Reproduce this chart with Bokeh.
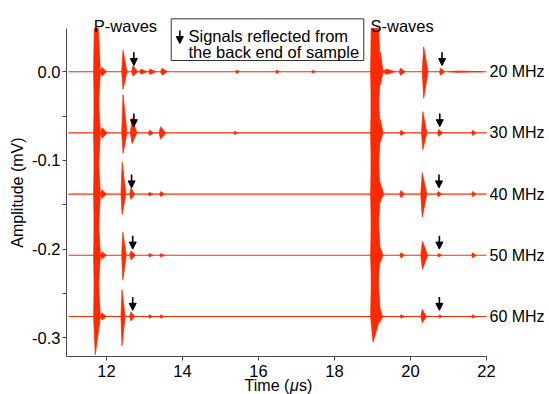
import numpy as np
from bokeh.plotting import figure
from bokeh.models import (ColumnDataSource, Arrow, NormalHead, Label, FixedTicker,
                          PrintfTickFormatter, Range1d, LinearAxis)
from bokeh.core.properties import value
from bokeh.embed import file_html
from bokeh.resources import INLINE

# ---------------- data ----------------
freq_labels = ["20 MHz", "30 MHz", "40 MHz", "50 MHz", "60 MHz"]
trace_offsets = [0.0, -0.069, -0.138, -0.207, -0.276]   # mV, vertical offset of each trace
record_start = 11.0   # us
record_end = 22.0     # us

# wave packets: (start us, end us, positive peak mV, negative peak mV), relative to trace baseline
packets_20 = [(11.66, 11.84, 0.120, 0.100), (11.84, 12.00, 0.005, 0.005),
              (12.40, 12.54, 0.024, 0.020), (12.66, 12.82, 0.007, 0.005),
              (12.86, 13.06, 0.003, 0.003), (13.10, 13.30, 0.003, 0.003),
              (13.42, 13.60, 0.004, 0.004), (15.40, 15.50, 0.002, 0.002),
              (16.45, 16.55, 0.002, 0.002), (17.40, 17.50, 0.0015, 0.0015),
              (18.95, 19.21, 0.200, 0.140), (19.18, 19.28, 0.022, 0.015),
              (19.28, 19.60, 0.003, 0.003), (19.70, 19.86, 0.004, 0.004),
              (20.31, 20.46, 0.028, 0.030), (20.76, 20.90, 0.004, 0.004),
              (21.00, 21.90, 0.0007, 0.0007)]
packets_30 = [(11.66, 11.84, 0.100, 0.100), (11.84, 12.02, 0.006, 0.006),
              (12.40, 12.54, 0.043, 0.023), (12.63, 12.80, 0.017, 0.012),
              (13.10, 13.24, 0.003, 0.003), (13.38, 13.56, 0.007, 0.007),
              (15.35, 15.45, 0.002, 0.002), (18.95, 19.21, 0.140, 0.140),
              (19.18, 19.28, 0.015, 0.010), (19.72, 19.84, 0.003, 0.003),
              (20.29, 20.43, 0.024, 0.019), (20.71, 20.84, 0.004, 0.004),
              (21.61, 21.72, 0.003, 0.003)]
packets_40 = [(11.66, 11.84, 0.100, 0.100), (11.84, 12.00, 0.005, 0.005),
              (12.38, 12.51, 0.036, 0.023), (12.61, 12.74, 0.007, 0.006),
              (13.10, 13.22, 0.002, 0.002), (13.40, 13.52, 0.003, 0.003),
              (18.95, 19.21, 0.140, 0.120), (19.16, 19.30, 0.013, 0.009),
              (19.72, 19.84, 0.004, 0.004), (20.27, 20.43, 0.024, 0.026),
              (20.70, 20.82, 0.003, 0.003), (21.61, 21.72, 0.003, 0.003)]
packets_50 = [(11.66, 11.84, 0.100, 0.090), (11.84, 12.00, 0.004, 0.004),
              (12.40, 12.52, 0.026, 0.028), (12.61, 12.76, 0.005, 0.005),
              (13.10, 13.22, 0.002, 0.002), (13.40, 13.52, 0.002, 0.002),
              (18.95, 19.21, 0.140, 0.090), (19.16, 19.28, 0.009, 0.009),
              (19.72, 19.84, 0.003, 0.003), (20.27, 20.45, 0.016, 0.016),
              (20.71, 20.82, 0.002, 0.002), (21.61, 21.72, 0.003, 0.003)]
packets_60 = [(11.66, 11.84, 0.100, 0.043), (11.84, 12.00, 0.004, 0.004),
              (12.38, 12.49, 0.030, 0.033), (12.61, 12.74, 0.005, 0.005),
              (13.10, 13.22, 0.002, 0.002), (13.40, 13.52, 0.002, 0.002),
              (18.95, 19.21, 0.140, 0.029), (19.16, 19.27, 0.009, 0.007),
              (19.72, 19.84, 0.002, 0.002), (20.27, 20.42, 0.008, 0.007),
              (20.74, 20.84, 0.002, 0.002), (21.61, 21.72, 0.002, 0.002)]
packets = [packets_20, packets_30, packets_40, packets_50, packets_60]

# arrows marking signals reflected from the back end of the sample (us)
arrow_p_times = [12.72, 12.72, 12.66, 12.69, 12.69]
arrow_s_times = [20.83, 20.77, 20.75, 20.76, 20.76]

x_ticks = [12, 14, 16, 18, 20, 22]
y_ticks = [0.0, -0.1, -0.2, -0.3]
y_minor_ticks = [-0.05, -0.15, -0.25]

# ---------------- layout / style ----------------
RED = "#ff2a00"
FONT = "Liberation Sans"
X_AXIS = (10.947, 22.0)
Y_AXIS = (-0.3211, 0.0487)

p = figure(width=549, height=394, output_backend="svg", toolbar_location=None,
           x_range=Range1d(9.2105, 23.658), y_range=Range1d(-0.36393, 0.08027),
           x_axis_location=None, y_axis_location=None,
           min_border_left=0, min_border_right=0, min_border_top=0, min_border_bottom=0)
p.outline_line_color = None
p.grid.visible = False
p.background_fill_color = "white"

xaxis = LinearAxis(fixed_location=Y_AXIS[0], bounds=X_AXIS,
                   ticker=FixedTicker(ticks=x_ticks))
yaxis = LinearAxis(fixed_location=X_AXIS[0], bounds=Y_AXIS,
                   ticker=FixedTicker(ticks=y_ticks, minor_ticks=y_minor_ticks),
                   formatter=PrintfTickFormatter(format="%.1f"))
for ax in (xaxis, yaxis):
    ax.axis_line_color = "#4a4a4a"
    ax.major_tick_line_color = "#4a4a4a"
    ax.minor_tick_line_color = "#4a4a4a"
    ax.major_tick_in = 0
    ax.major_tick_out = 4
    ax.minor_tick_in = 0
    ax.minor_tick_out = 4
    ax.major_label_text_font = FONT
    ax.major_label_text_font_size = "16.5px"
    ax.major_label_text_color = "black"
xaxis.major_label_standoff = 4
yaxis.major_label_standoff = 2
p.add_layout(xaxis, "below")
p.add_layout(yaxis, "left")


def clip_top(xs, ys, ymax):
    ox, oy = [], []
    n = len(xs)
    for i in range(n):
        x1, y1 = xs[i], ys[i]
        x2, y2 = xs[(i + 1) % n], ys[(i + 1) % n]
        in1, in2 = y1 <= ymax, y2 <= ymax
        if in1:
            ox.append(x1); oy.append(y1)
        if in1 != in2:
            f = (ymax - y1) / (y2 - y1)
            ox.append(x1 + f * (x2 - x1)); oy.append(ymax)
    return ox, oy


# baselines
p.multi_line([[record_start, record_end] for _ in trace_offsets],
             [[o, o] for o in trace_offsets], line_color=RED, line_width=1.1)

# wave packets as envelopes (kite: fast rise, slower decay)
pxs, pys = [], []
for base, plist in zip(trace_offsets, packets):
    for t0, t1, up, dn in plist:
        w = t1 - t0
        xs = [t0, t0 + 0.25 * w, t1, t0 + 0.25 * w]
        ys = [base, base + up, base, base - dn]
        xs, ys = clip_top(xs, ys, Y_AXIS[1])
        pxs.append(xs); pys.append(ys)
p.patches(pxs, pys, fill_color=RED, line_color=RED, line_width=0.7)

# frequency labels
p.text(x=[22.079] * 5, y=trace_offsets, text=freq_labels, text_font=value(FONT),
       text_font_size="16px", text_baseline="middle", text_align="left", text_color="black")

# reflection arrows
asrc = ColumnDataSource(dict(
    x=arrow_p_times + arrow_s_times,
    y0=[o + 0.022 for o in trace_offsets] * 2,
    y1=[o + 0.007 for o in trace_offsets] * 2))
p.add_layout(Arrow(end=NormalHead(size=7, fill_color="black", line_color="black", line_width=1),
                   source=asrc, x_start="x", y_start="y0", x_end="x", y_end="y1",
                   line_color="black", line_width=1.6))

# wave-type labels
p.text(x=[11.666, 18.947], y=[0.05096, 0.05096], text=["P-waves", "S-waves"],
       text_font=value(FONT), text_font_size="16.5px", text_baseline="alphabetic",
       text_align="left", text_color="black")

# legend box
p.quad(left=[13.703], right=[18.771], top=[0.0596], bottom=[0.01263],
       fill_color=None, line_color="#333333", line_width=1)
p.text(x=[14.158, 14.158], y=[0.04002, 0.02198],
       text=["Signals reflected from", "the back end of sample"],
       text_font=value(FONT), text_font_size="16.5px", text_baseline="alphabetic",
       text_align="left", text_color="black")
lsrc = ColumnDataSource(dict(x=[13.929], y0=[0.04645], y1=[0.03179]))
p.add_layout(Arrow(end=NormalHead(size=7, fill_color="black", line_color="black", line_width=1),
                   source=lsrc, x_start="x", y_start="y0", x_end="x", y_end="y1",
                   line_color="black", line_width=1.6))

# axis titles
p.add_layout(Label(x=9.671, y=-0.1362, text="Amplitude (mV)", angle=np.pi / 2,
                   text_align="center", text_baseline="middle", text_font=FONT,
                   text_font_size="16px", text_color="black"))
XL_Y = -0.3538
p.add_layout(Label(x=15.634, y=XL_Y, text="Time (", text_align="left",
                   text_baseline="alphabetic", text_font=FONT, text_font_size="16px",
                   text_color="black"))
p.add_layout(Label(x=16.826, y=XL_Y, text="\u03bc", text_align="left",
                   text_baseline="alphabetic", text_font=FONT, text_font_size="16px",
                   text_font_style="italic", text_color="black"))
p.add_layout(Label(x=17.068, y=XL_Y, text="s)", text_align="left",
                   text_baseline="alphabetic", text_font=FONT, text_font_size="16px",
                   text_color="black"))

open("out.html", "w").write(file_html(p, INLINE))
